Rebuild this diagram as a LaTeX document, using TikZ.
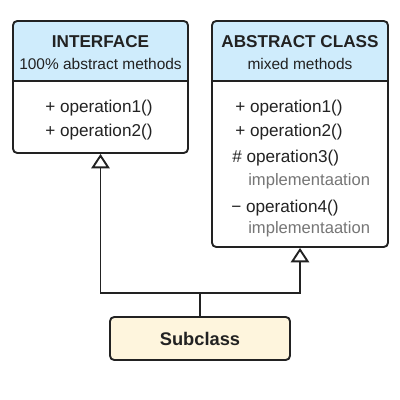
\documentclass[tikz,border=0pt]{standalone}
\usepackage{fontspec}
\setmainfont{Liberation Sans}
\usetikzlibrary{arrows.meta, positioning}
\definecolor{headblue}{RGB}{207,236,252}
\definecolor{cream}{RGB}{254,245,221}
\definecolor{ink}{RGB}{34,34,34}
\definecolor{implgray}{RGB}{118,118,118}

\begin{document}
\begin{tikzpicture}[
    umlbox/.style={draw=ink, line width=1.35pt, rounded corners=3pt, fill=white, inner sep=0pt,
        path picture={
            \fill[headblue] (path picture bounding box.north west) rectangle ([yshift=-1.5cm]path picture bounding box.north east);
            \draw[ink, line width=1.35pt] ([yshift=-1.5cm]path picture bounding box.north west) -- ([yshift=-1.5cm]path picture bounding box.north east);}},
    title/.style={font=\fontsize{12.2}{14}\selectfont\bfseries, text=ink, anchor=base},
    subtitle/.style={font=\fontsize{11}{13}\selectfont, text=ink, anchor=base},
    method/.style={font=\fontsize{12.2}{14}\selectfont, text=ink, anchor=base west, inner sep=0pt},
    impl/.style={font=\fontsize{11.8}{14}\selectfont, text=implgray, anchor=base west, inner sep=0pt},
    generalize/.style={draw=ink, line width=1.35pt, -{Triangle[open, length=0.36cm, width=0.46cm, fill=white]}}
]
    \useasboundingbox (0,0) rectangle (10,10);

    % Interface box
    \node[umlbox, minimum width=4.375cm, minimum height=3.3cm] (iface) at (2.5125,7.825) {};
    \node[title] (ifacetitle) at (2.5125,8.8) {INTERFACE};
    \node[subtitle] (ifacesub) at (2.5125,8.2625) {100\% abstract methods};
    \node[method] (ifaceop1) at (1.125,7.1875) {+ operation1()};
    \node[method] (ifaceop2) at (1.125,6.5875) {+ operation2()};

    % Abstract class box
    \node[umlbox, minimum width=4.4cm, minimum height=5.65cm] (abs) at (7.5,6.65) {};
    \node[title] (abstitle) at (7.5,8.8) {ABSTRACT CLASS};
    \node[subtitle] (abssub) at (7.5,8.2625) {mixed methods};
    \node[method] (absop1) at (5.875,7.1875) {+ operation1()};
    \node[method] (absop2) at (5.875,6.5875) {+ operation2()};
    \node[method] (absop3) at (5.8,5.9375) {\# operation3()};
    \node[impl] (absimpl3) at (6.2,5.3625) {implementaation};
    \node[method] (absop4) at (5.775,4.6875) {− operation4()};
    \node[impl] (absimpl4) at (6.2,4.1625) {implementaation};

    % Subclass
    \node[draw=ink, line width=1.35pt, rounded corners=3pt, fill=cream, minimum width=4.5cm, minimum height=1.075cm,
          font=\fontsize{13}{15}\selectfont\bfseries, text=ink] (sub) at (5,1.5375) {Subclass};

    % Generalization
    \coordinate (join) at (5,2.675);
    \draw[ink, line width=1.35pt] (sub.north) -- (join);
    \draw[generalize] (join) -| (iface.south);
    \draw[generalize] (join) -| (abs.south);
\end{tikzpicture}
\end{document}
